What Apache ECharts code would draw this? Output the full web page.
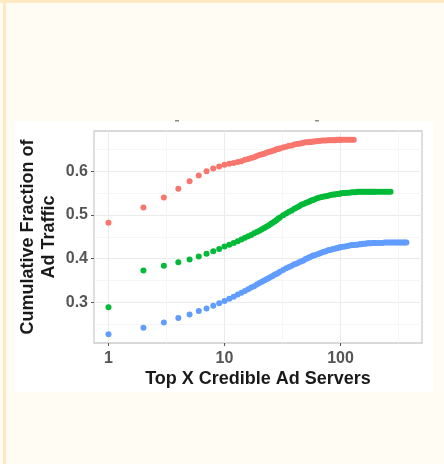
<!DOCTYPE html>
<html>
<head>
<meta charset="utf-8">
<script src="https://cdn.jsdelivr.net/npm/echarts@6/dist/echarts.min.js"></script>
<style>
    html, body { margin: 0; padding: 0; background: #fffdf3; }
    #chart { width: 444px; height: 464px; }
</style>
</head>
<body>
<div id="chart"></div>
<script>
// x positions (Top X servers)
var xs = [1, 2, 3, 4, 5, 6, 7, 8, 9, 10, 11, 12, 13, 14, 15, 16, 17, 18, 19, 20,
    21, 22, 23, 24, 25, 26, 27, 28, 29, 30,
    32, 34, 36, 38, 40, 42, 44, 46, 48, 50, 52, 54, 56, 58, 60,
    63, 66, 69, 72, 75, 78, 81, 84, 87, 90, 93, 96, 99,
    100, 105, 110, 115, 120, 125, 130, 135, 140, 145, 150, 155, 160, 165, 170, 175, 180, 185, 190, 195, 200,
    210, 220, 230, 240, 250, 260, 270, 280, 290, 300, 310, 320, 330, 340, 350, 360, 370];

// cumulative fraction, one list per group (same order as xs)
var redY = [0.482, 0.517, 0.540, 0.560, 0.577, 0.590, 0.600, 0.606, 0.611, 0.615,
    0.617, 0.619, 0.621, 0.623, 0.626, 0.628, 0.630, 0.632, 0.635, 0.637,
    0.639, 0.640, 0.642, 0.644, 0.645, 0.647, 0.648, 0.650, 0.651, 0.652,
    0.654, 0.656, 0.658, 0.659, 0.661, 0.662, 0.663, 0.664, 0.665, 0.666, 0.666, 0.667, 0.667, 0.668, 0.668,
    0.669, 0.669, 0.670, 0.670, 0.670, 0.671, 0.671, 0.671, 0.671, 0.671, 0.672, 0.672, 0.672,
    0.672, 0.672, 0.672, 0.672, 0.672, 0.672, 0.672];

var greenY = [0.289, 0.373, 0.384, 0.392, 0.398, 0.405, 0.411, 0.417, 0.422, 0.428,
    0.432, 0.436, 0.440, 0.444, 0.448, 0.451, 0.454, 0.458, 0.461, 0.464,
    0.467, 0.470, 0.473, 0.476, 0.479, 0.482, 0.485, 0.488, 0.491, 0.494,
    0.499, 0.503, 0.507, 0.510, 0.514, 0.517, 0.520, 0.523, 0.525, 0.527, 0.529, 0.531, 0.533, 0.534, 0.536,
    0.538, 0.540, 0.541, 0.542, 0.543, 0.544, 0.545, 0.546, 0.547, 0.547, 0.548, 0.548, 0.549,
    0.549, 0.550, 0.550, 0.551, 0.551, 0.552, 0.552, 0.552, 0.553, 0.553, 0.553, 0.553, 0.553, 0.553,
    0.553, 0.553, 0.553, 0.553, 0.553, 0.553, 0.553,
    0.553, 0.553, 0.553, 0.553, 0.553, 0.553, 0.553];

var blueY = [0.227, 0.242, 0.254, 0.264, 0.272, 0.280, 0.286, 0.292, 0.298, 0.303,
    0.308, 0.313, 0.318, 0.322, 0.326, 0.330, 0.334, 0.337, 0.341, 0.344,
    0.347, 0.350, 0.353, 0.355, 0.358, 0.360, 0.363, 0.365, 0.367, 0.370,
    0.374, 0.378, 0.381, 0.384, 0.387, 0.389, 0.392, 0.394, 0.396, 0.399, 0.401, 0.403, 0.405, 0.407, 0.408,
    0.410, 0.412, 0.414, 0.416, 0.417, 0.419, 0.420, 0.421, 0.422, 0.423, 0.424, 0.425, 0.426,
    0.426, 0.427, 0.428, 0.429, 0.430, 0.431, 0.431, 0.432, 0.432, 0.433, 0.433, 0.434, 0.434,
    0.434, 0.435, 0.435, 0.435, 0.435, 0.436, 0.436, 0.436,
    0.436, 0.436, 0.436, 0.437, 0.437, 0.437, 0.437, 0.437, 0.437, 0.437, 0.437, 0.437, 0.437,
    0.437, 0.437, 0.437, 0.437];

// tick labels and minor grid positions
var xTicks = [1, 10, 100];
var yTicks = [0.3, 0.4, 0.5, 0.6];
var minorX = [3.1623, 31.623, 316.23];
var minorY = [0.25, 0.35, 0.45, 0.55, 0.65];

var COLORS = ['#F8766D', '#00BA38', '#619CFF'];
var FONT = 'Liberation Sans, Arial, sans-serif';

/**
 * 把 xs 和某一组的 y 拼成 [x, y]
 */
function toPairs(ys) {
    let out = [];
    for (let i = 0; i < ys.length; i++) {
        out.push([xs[i], ys[i]]);
    }
    return out;
}

function initChart(element) {
    let chart = echarts.init(element, null, { renderer: 'canvas' });

    let minorLines = [];
    for (let x of minorX) minorLines.push({ xAxis: x });
    for (let y of minorY) minorLines.push({ yAxis: y });

    let scatter = function (ys, color) {
        return {
            type: 'scatter',
            data: toPairs(ys),
            symbolSize: 6,
            itemStyle: { color: color, opacity: 1 },
            silent: true,
            z: 3
        };
    };

    chart.setOption({
        animation: false,
        backgroundColor: '#fffdf3',
        graphic: [
            { type: 'rect', shape: { x: 0, y: 0, width: 444, height: 3 }, style: { fill: '#fde9c2' }, z: -10 },
            { type: 'rect', shape: { x: 3, y: 0, width: 3, height: 464 }, style: { fill: '#fde9c2' }, z: -10 },
            { type: 'rect', shape: { x: 15, y: 121, width: 418, height: 271 }, style: { fill: '#ffffff' }, z: -10 },
            { type: 'rect', shape: { x: 175, y: 120, width: 4, height: 1.5 }, style: { fill: '#8a8a8a' }, z: -9 },
            { type: 'rect', shape: { x: 315, y: 120, width: 4, height: 1.5 }, style: { fill: '#8a8a8a' }, z: -9 }
        ],
        grid: {
            left: 94, right: 22, top: 131, bottom: 121,
            show: true,
            backgroundColor: 'transparent',
            borderColor: '#cdcdcd',
            borderWidth: 1.3
        },
        xAxis: {
            type: 'log',
            logBase: 10,
            min: 0.75,
            max: 504,
            name: 'Top X Credible Ad Servers',
            nameLocation: 'middle',
            nameGap: 27,
            nameTextStyle: { fontFamily: FONT, fontSize: 18, fontWeight: 'bold', color: '#1a1a1a' },
            axisLine: { show: false },
            axisTick: { show: true, length: 3, lineStyle: { color: '#555' }, customValues: xTicks },
            axisLabel: {
                fontFamily: FONT, fontSize: 16, fontWeight: 'bold', color: '#555', margin: 8,
                customValues: xTicks,
                formatter: function (v) { return String(Math.round(v)); }
            },
            splitLine: { show: true, lineStyle: { color: '#ebebeb', width: 1 } }
        },
        yAxis: {
            type: 'value',
            min: 0.207,
            max: 0.692,
            splitNumber: 5,
            name: 'Cumulative Fraction of\nAd Traffic',
            nameLocation: 'middle',
            nameRotate: 90,
            nameGap: 34,
            nameMoveOverlap: false,
            nameTextStyle: { fontFamily: FONT, fontSize: 18, fontWeight: 'bold', color: '#1a1a1a', lineHeight: 21 },
            axisLine: { show: false },
            axisTick: { show: true, length: 3, lineStyle: { color: '#555' }, customValues: yTicks },
            axisLabel: {
                fontFamily: FONT, fontSize: 16, fontWeight: 'bold', color: '#555', margin: 6,
                customValues: yTicks,
                formatter: function (v) { return v.toFixed(1); }
            },
            splitLine: { show: true, lineStyle: { color: '#ebebeb', width: 1 } }
        },
        series: [
            {   // 次网格线，放在点的下面
                type: 'scatter',
                data: [],
                silent: true,
                z: 1,
                markLine: {
                    silent: true,
                    z: 1,
                    symbol: 'none',
                    label: { show: false },
                    lineStyle: { color: '#f4f4f4', width: 0.8, type: 'solid' },
                    data: minorLines
                }
            },
            scatter(redY, COLORS[0]),
            scatter(greenY, COLORS[1]),
            scatter(blueY, COLORS[2])
        ]
    });
    return chart;
}

var Chart = initChart(document.getElementById('chart'));
</script>
</body>
</html>
